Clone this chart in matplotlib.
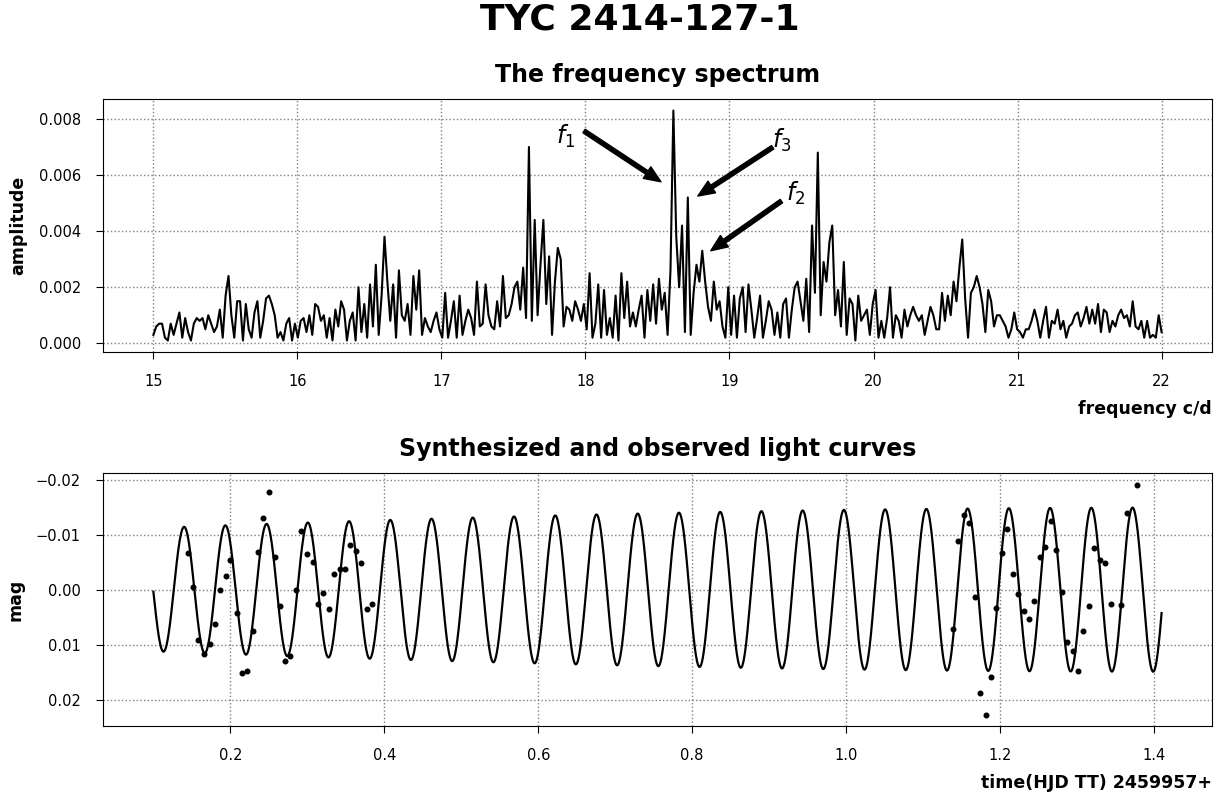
import numpy as np
import matplotlib
matplotlib.use("Agg")
import matplotlib.pyplot as plt

# ---------------- data ----------------
star_name = "TYC 2414-127-1"

# frequency spectrum (amplitude in units of 1e-4, evenly spaced from 15 to 22 c/d)
freq_min, freq_max = 15.0, 22.0
amp_e4 = [
    # 15.0 - 16.15
    3, 6, 7, 7, 2, 1, 7, 3, 7, 11, 2, 9, 4, 1, 7, 9, 8, 9, 5, 10,
    7, 4, 6, 12, 2, 17, 24, 10, 2, 15, 15, 1, 14, 5, 2, 11, 15, 2, 8, 16,
    17, 14, 10, 2, 4, 1, 7, 9, 1, 7, 2, 8, 9, 4, 10, 3, 14, 13,
    # 16.17 - 17.32
    8, 10, 2, 9, 1, 12, 6, 15, 12, 1, 8, 11, 1, 20, 4, 14, 2, 21, 6, 28,
    3, 17, 38, 22, 8, 21, 2, 26, 10, 8, 14, 3, 24, 12, 26, 3, 9, 6, 4, 8,
    11, 5, 2, 18, 2, 8, 15, 2, 17, 3, 8, 12, 9, 3, 22, 6, 7, 21,
    # 17.34 - 18.51
    10, 6, 5, 15, 6, 24, 9, 10, 14, 20, 22, 12, 27, 9, 70, 8, 44, 10, 28, 44,
    14, 31, 3, 22, 34, 30, 6, 13, 12, 8, 15, 12, 8, 14, 5, 25, 2, 7, 21, 2,
    19, 3, 9, 2, 17, 1, 25, 9, 22, 6, 11, 6, 12, 17, 2, 19, 8, 21, 7, 23,
    # 18.53 - 19.71
    12, 18, 3, 26, 83, 38, 20, 42, 4, 52, 3, 18, 28, 22, 33, 22, 13, 8, 22, 12,
    15, 6, 2, 20, 3, 17, 2, 16, 20, 4, 21, 12, 2, 9, 17, 2, 8, 15, 12, 3,
    11, 2, 14, 16, 2, 12, 20, 22, 15, 8, 23, 4, 42, 18, 68, 10, 29, 22, 36, 42,
    # 19.73 - 20.91
    10, 19, 6, 29, 3, 16, 14, 1, 17, 8, 10, 12, 3, 14, 19, 2, 8, 2, 9, 20,
    2, 10, 8, 2, 12, 6, 10, 13, 10, 8, 10, 3, 8, 13, 10, 5, 5, 18, 8, 17,
    10, 22, 15, 27, 37, 16, 2, 18, 20, 24, 20, 14, 4, 19, 15, 6, 10, 10, 8, 6,
    # 20.93 - 22.0
    2, 5, 11, 5, 4, 2, 5, 5, 8, 12, 8, 2, 8, 13, 2, 8, 7, 12, 5, 8,
    2, 6, 7, 10, 11, 6, 9, 13, 7, 12, 7, 14, 4, 12, 11, 4, 8, 6, 10, 12,
    9, 10, 6, 15, 6, 5, 8, 2, 8, 2, 3, 2, 10, 4,
]
amp_unit = 1e-4

# labelled frequencies
peak_labels = ["$f_1$", "$f_3$", "$f_2$"]
peak_freqs = [18.61, 18.71, 18.81]

# synthesized light curve: sum of cosines (frequency c/d, amplitude mag, phase in cycles)
lc_freqs = [18.578, 18.748]
lc_amps = [0.00746, 0.00746]
lc_phases = [0.0123, 0.7658]
lc_t_start, lc_t_end = 0.10, 1.41

# observed points (time HJD - 2459957, mag)
obs_time = [
    0.145, 0.151, 0.158, 0.166, 0.173, 0.180, 0.187, 0.194, 0.200, 0.208,
    0.215, 0.222, 0.229, 0.236, 0.243, 0.250, 0.258, 0.265, 0.271, 0.278,
    0.285, 0.292, 0.300, 0.307, 0.314, 0.321, 0.328, 0.335, 0.342, 0.349,
    0.356, 0.363, 0.370, 0.378, 0.384,
    1.1390, 1.1459, 1.1528, 1.1602, 1.1671, 1.1744, 1.1814, 1.1883, 1.1952, 1.2026,
    1.2095, 1.2165, 1.2234, 1.2307, 1.2377, 1.2446, 1.2519, 1.2588, 1.2662, 1.2732,
    1.2801, 1.2870, 1.2944, 1.3013, 1.3082, 1.3152, 1.3225, 1.3294, 1.3364, 1.3437,
    1.3575, 1.3645, 1.3783,
]
obs_mag = [
    -0.0066, -0.0004, 0.0092, 0.0117, 0.0098, 0.0062, 0.0000, -0.0024, -0.0053, 0.0042,
    0.0151, 0.0148, 0.0075, -0.0069, -0.0130, -0.0177, -0.0059, 0.0030, 0.0129, 0.0120,
    0.0001, -0.0106, -0.0064, -0.0051, 0.0027, 0.0007, 0.0035, -0.0028, -0.0037, -0.0037,
    -0.0082, -0.0070, -0.0049, 0.0035, 0.0026,
    0.0071, -0.0089, -0.0135, -0.0121, 0.0013, 0.0188, 0.0227, 0.0159, 0.0033, -0.0067,
    -0.0111, -0.0028, 0.0008, 0.0038, 0.0053, 0.0021, -0.0059, -0.0077, -0.0125, -0.0072,
    0.0004, 0.0095, 0.0111, 0.0148, 0.0075, 0.0029, -0.0075, -0.0053, -0.0049, 0.0027,
    0.0028, -0.0139, -0.0191,
]

# ---------------- derived ----------------
amp = np.array(amp_e4) * amp_unit
freq = np.linspace(freq_min, freq_max, len(amp))

t = np.linspace(lc_t_start, lc_t_end, 4000)
model = np.zeros_like(t)
for f, a, p in zip(lc_freqs, lc_amps, lc_phases):
    model += a * np.cos(2 * np.pi * (f * t + p))

# ---------------- figure ----------------
plt.rcParams["font.family"] = "DejaVu Sans"
fig = plt.figure(figsize=(12.23, 7.96), dpi=100)
ax1 = fig.add_axes([0.0842, 0.5578, 0.9068, 0.3178])
ax2 = fig.add_axes([0.0842, 0.0879, 0.9068, 0.3178])

fig.text(0.523, 0.975, star_name, fontsize=26, fontweight="bold",
         ha="center", va="center")

grid_kw = dict(linestyle=":", color="gray", linewidth=1.0)
label_kw = dict(fontsize=12.5, fontweight="bold")
title_kw = dict(fontsize=17, fontweight="bold", pad=12)
tick_kw = dict(labelsize=10.5, length=5, width=0.8, pad=11)

# spectrum
ax1.plot(freq, amp, color="black", linewidth=1.5)
ax1.grid(True, **grid_kw)
ax1.set_title("The frequency spectrum", **title_kw)
ax1.set_xlabel("frequency c/d", loc="right", labelpad=8, **label_kw)
ax1.set_ylabel("amplitude", labelpad=8, **label_kw)
ax1.tick_params(**tick_kw)

arrow_kw = dict(facecolor="black", edgecolor="black", width=3.0,
                headwidth=10, headlength=12, shrink=0.0)
# (label text position, arrow tail, arrow head) in data coordinates
arrow_layout = [
    ((17.86, 0.00736), (17.99, 0.00757), (18.524, 0.00576)),
    ((19.36, 0.00725), (19.30, 0.00699), (18.78, 0.00525)),
    ((19.46, 0.00533), (19.36, 0.00507), (18.87, 0.00330)),
]
for lab, (txt, tail, head) in zip(peak_labels, arrow_layout):
    ax1.annotate("", xy=head, xytext=tail, arrowprops=arrow_kw)
    ax1.text(txt[0], txt[1], lab, fontsize=17, ha="center", va="center")

# light curves
ax2.plot(t, model, color="black", linewidth=1.6)
ax2.plot(obs_time, obs_mag, "o", color="black", markersize=3.3)
ax2.invert_yaxis()
ax2.grid(True, **grid_kw)
ax2.set_title("Synthesized and observed light curves", **title_kw)
ax2.set_xlabel("time(HJD TT) 2459957+", loc="right", labelpad=8, **label_kw)
ax2.set_ylabel("mag", labelpad=8, **label_kw)
ax2.tick_params(**tick_kw)

fig.savefig("out.png", dpi=100)
